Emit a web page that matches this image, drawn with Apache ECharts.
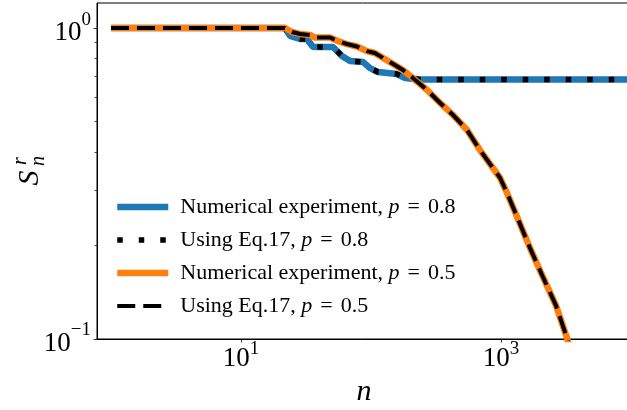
<!DOCTYPE html>
<html><head><meta charset="utf-8">
<script src="https://cdn.jsdelivr.net/npm/echarts@6/dist/echarts.min.js"></script>
<style>html,body{margin:0;padding:0;background:#fff}#c{width:627px;height:410px}</style>
</head><body><div id="c"></div>
<script>
// p = 0.8 (numerical experiment and Eq.17 overlap)
const n08 = [1, 21.8, 23.8, 28.4, 32.2, 35.8, 51.0, 59.8, 68.9, 86.7, 98.2, 113, 158, 183, 238, 10000];
const S08 = [1, 1, 0.944, 0.922, 0.922, 0.869, 0.869, 0.813, 0.783, 0.778, 0.743, 0.722, 0.711, 0.691, 0.683, 0.683];
// p = 0.5
const n05 = [1, 21.8, 24.7, 28.4, 34.0, 37.1, 48.4, 55.7, 65.3, 78.0, 93.1, 107, 124, 148, 176, 210, 270, 340, 428, 548, 689, 982, 1112, 1282, 1672, 2105, 2650, 3220, 3600];
const S05 = [1, 1, 0.971, 0.957, 0.950, 0.932, 0.932, 0.908, 0.888, 0.872, 0.843, 0.831, 0.801, 0.766, 0.733, 0.691, 0.632, 0.574, 0.525, 0.470, 0.405, 0.330, 0.295, 0.256, 0.196, 0.158, 0.128, 0.1007, 0.085];
const seriesNames = ['Numerical experiment, p = 0.8', 'Using Eq.17, p = 0.8', 'Numerical experiment, p = 0.5', 'Using Eq.17, p = 0.5'];
const xTicks = [10, 1000];
const yTicks = [0.1, 1];
const yMinorTicks = [0.2, 0.3, 0.4, 0.5, 0.6, 0.7, 0.8, 0.9];

const pts = (xs, ys) => xs.map((x, i) => [x, ys[i]]);
const FONT = '"Liberation Serif", "DejaVu Serif", serif';
const sup = v => {
  const e = Math.round(Math.log10(v));
  return '{b|10}{s|' + (e < 0 ? '\u2212' + (-e) : e) + '}';
};

const chart = echarts.init(document.getElementById('c'), null, {renderer: 'canvas'});
chart.setOption({
  animation: false,
  backgroundColor: '#fff',
  grid: {left: 97, top: 3, right: -4, bottom: 71, show: true, borderColor: '#000', borderWidth: 1, containLabel: false, outerBoundsMode: 'none'},
  xAxis: {
    type: 'log', logBase: 10, min: 0.78, max: 10000,
    name: 'n', nameLocation: 'middle', nameGap: 31,
    nameTextStyle: {fontFamily: FONT, fontStyle: 'italic', fontSize: 30, color: '#000'},
    axisLine: {show: true, lineStyle: {color: '#000', width: 1}},
    axisTick: {show: true, customValues: xTicks, length: 3.5, lineStyle: {color: '#000', width: 0.8}},
    axisLabel: {customValues: xTicks, formatter: sup, margin: 1, color: '#000',
      rich: {b: {fontFamily: FONT, fontSize: 27, lineHeight: 32, verticalAlign: 'bottom', color: '#000'},
             s: {fontFamily: FONT, fontSize: 19, lineHeight: 19, verticalAlign: 'top', color: '#000'}}},
    splitLine: {show: false}, minorTick: {show: false}
  },
  yAxis: [{
    type: 'log', logBase: 10, min: 0.1, max: 1.2035,
    axisLine: {show: true, lineStyle: {color: '#000', width: 1}},
    axisTick: {show: true, customValues: yTicks, length: 3.5, lineStyle: {color: '#000', width: 0.8}},
    axisLabel: {customValues: yTicks, formatter: sup, margin: 6, color: '#000',
      rich: {b: {fontFamily: FONT, fontSize: 27, lineHeight: 36, verticalAlign: 'bottom', color: '#000'},
             s: {fontFamily: FONT, fontSize: 19, lineHeight: 19, verticalAlign: 'top', color: '#000'}}},
    splitLine: {show: false}
  }, {
    type: 'log', logBase: 10, min: 0.1, max: 1.2035, position: 'left',
    axisLine: {show: false},
    axisTick: {show: true, customValues: yMinorTicks, length: 2.5, lineStyle: {color: '#000', width: 0.7}},
    axisLabel: {show: false},
    splitLine: {show: false}
  }],
  legend: {
    orient: 'vertical', left: 114, top: 196, padding: 0,
    itemWidth: 51, itemHeight: 14, itemGap: 11, selectedMode: false,
    itemStyle: {opacity: 0, borderWidth: 0},
    lineStyle: {width: 'inherit', type: 'inherit', cap: 'butt'},
    data: seriesNames,
    formatter: name => {
      const k = name.indexOf('p = ');
      return '{t|' + name.slice(0, k) + '}{i|p}{e|=}{t|' + name.slice(k + 4) + '}';
    },
    textStyle: {fontFamily: FONT, fontSize: 22, color: '#000', padding: [0, 0, 0, 7],
      rich: {t: {fontFamily: FONT, fontSize: 22, lineHeight: 22, color: '#000'},
             e: {fontFamily: FONT, fontSize: 22, lineHeight: 22, color: '#000', padding: [0, 8, 0, 8]},
             i: {fontFamily: FONT, fontSize: 22, lineHeight: 22, fontStyle: 'italic', color: '#000'}}}
  },
  graphic: [{
    type: 'group', x: 30, y: 171, rotation: Math.PI / 2,
    children: [
      {type: 'text', x: -7, y: 0, style: {text: 'S', font: 'italic 30px "Liberation Serif"', fill: '#000', align: 'center', verticalAlign: 'middle'}},
      {type: 'text', x: 10, y: -9, style: {text: 'r', font: 'italic 20px "Liberation Serif"', fill: '#000', align: 'center', verticalAlign: 'middle'}},
      {type: 'text', x: 10, y: 9, style: {text: 'n', font: 'italic 20px "Liberation Serif"', fill: '#000', align: 'center', verticalAlign: 'middle'}}
    ]
  }],
  series: [
    {name: seriesNames[0], type: 'line', data: pts(n08, S08), symbol: 'none',
     lineStyle: {color: '#1f77b4', width: 6.5}, itemStyle: {color: '#1f77b4'}},
    {name: seriesNames[1], type: 'line', data: pts(n08, S08), symbol: 'none',
     lineStyle: {color: '#000', width: 5.5, type: [5.5, 16], cap: 'butt'}, itemStyle: {color: '#000'}},
    {name: seriesNames[2], type: 'line', data: pts(n05, S05), symbol: 'none',
     lineStyle: {color: '#ff7f0e', width: 6.5}, itemStyle: {color: '#ff7f0e'}},
    {name: seriesNames[3], type: 'line', data: pts(n05, S05), symbol: 'none',
     lineStyle: {color: '#000', width: 4, type: [18, 8], cap: 'butt'}, itemStyle: {color: '#000'}}
  ]
});
</script></body></html>
